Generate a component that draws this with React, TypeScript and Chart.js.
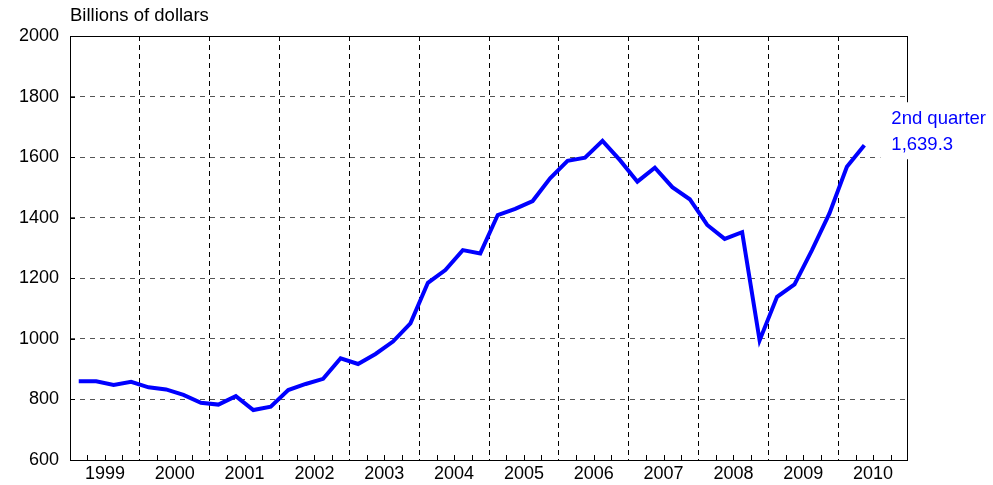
import { useEffect, useRef } from 'react';
import { Chart, registerables } from 'chart.js';

Chart.register(...registerables);

const years = ['1999', '2000', '2001', '2002', '2003', '2004', '2005', '2006', '2007', '2008', '2009', '2010'];
// Quarterly values, 1999 Q1 .. 2010 Q2 (billions of dollars)
const values = [
  860, 860, 848, 858,
  840, 833, 815, 789,
  783, 811, 765, 776,
  831, 851, 868, 936,
  917, 950, 991, 1051,
  1185, 1227, 1293, 1282,
  1409, 1429, 1455, 1530,
  1588, 1598, 1654, 1590,
  1519, 1565, 1501, 1461,
  1376, 1330, 1352, 995,
  1139, 1180, 1293, 1414,
  1568, 1639.3,
];
const yMin = 600;
const yMax = 2000;
const yStep = 200;
const unitLabel = 'Billions of dollars';
const noteLines = ['2nd quarter', '1,639.3'];

const FONT = '"Liberation Sans", Arial, Helvetica, sans-serif';

const framePlugin = {
  id: 'frameAndNotes',
  beforeDatasetsDraw(chart: any) {
    const { ctx, chartArea, scales } = chart;
    const { left, right, top, bottom } = chartArea;
    const x = scales.x;
    const y = scales.y;
    ctx.save();
    ctx.strokeStyle = '#000';
    ctx.lineWidth = 1;
    ctx.setLineDash([]);
    ctx.beginPath();
    const nq = years.length * 4;
    for (let q = 1; q < nq; q++) {
      if (q % 4 === 0) continue;
      const px = Math.round(x.getPixelForValue(q)) + 0.5;
      ctx.moveTo(px, bottom);
      ctx.lineTo(px, bottom - 5);
    }
    for (let v = yMin; v <= yMax; v += yStep) {
      const py = Math.round(y.getPixelForValue(v)) + 0.5;
      ctx.moveTo(left, py);
      ctx.lineTo(left + 5, py);
    }
    ctx.stroke();
    ctx.strokeRect(Math.round(left) + 0.5, Math.round(top) + 0.5, Math.round(right - left) - 1, Math.round(bottom - top));
    ctx.restore();
  },
  afterDraw(chart: any) {
    const { ctx, chartArea, scales } = chart;
    const x = scales.x;
    const y = scales.y;
    const last = values.length - 1;
    const px = x.getPixelForValue(last + 0.5);
    const py = y.getPixelForValue(values[last]);
    ctx.save();
    ctx.fillStyle = '#fff';
    ctx.fillRect(px + 16, py - 43, 130, 57);
    ctx.font = `18.5px ${FONT}`;
    ctx.fillStyle = '#0000ff';
    ctx.textAlign = 'left';
    ctx.textBaseline = 'alphabetic';
    ctx.fillText(noteLines[0], px + 27, py - 21);
    ctx.fillText(noteLines[1], px + 27, py + 5);
    ctx.fillStyle = '#000';
    ctx.fillText(unitLabel, chartArea.left, chartArea.top - 15);
    ctx.restore();
  },
};

export default function App() {
  const ref = useRef<HTMLCanvasElement | null>(null);
  useEffect(() => {
    document.body.style.margin = '0';
    if (!ref.current) return;
    Chart.defaults.font.family = FONT;
    const data = values.map((v, i) => ({ x: i + 0.5, y: v }));
    const chart = new Chart(ref.current, {
      type: 'line',
      data: {
        datasets: [
          {
            data,
            borderColor: '#0000ff',
            borderWidth: 4,
            pointRadius: 0,
            tension: 0,
            fill: false,
            borderJoinStyle: 'miter',
            borderCapStyle: 'butt',
          },
        ],
      },
      options: {
        animation: false,
        responsive: false,
        maintainAspectRatio: false,
        layout: { padding: { left: 0, top: 36, right: 85, bottom: 0 } },
        plugins: { legend: { display: false }, tooltip: { enabled: false } },
        scales: {
          x: {
            type: 'linear',
            min: 0,
            max: years.length * 4,
            afterFit: (s: any) => { s.height = 25; },
            afterBuildTicks: (s: any) => {
              const t = [];
              for (let q = 0; q <= years.length * 4; q++) t.push({ value: q });
              s.ticks = t;
            },
            ticks: {
              autoSkip: false,
              maxRotation: 0,
              minRotation: 0,
              padding: 3,
              color: '#000',
              font: { size: 18 },
              callback: (v: any) => {
                const n = Number(v);
                return n % 4 === 2 ? years[(n - 2) / 4] : '';
              },
            },
            grid: {
              drawTicks: false,
              lineWidth: 1,
              color: (c: any) => {
                const v = c.tick ? c.tick.value : -1;
                return v % 4 === 0 && v > 0 && v < years.length * 4 ? '#000' : 'rgba(0,0,0,0)';
              },
            },
            border: { display: false, dash: [5, 4] },
          },
          y: {
            min: yMin,
            max: yMax,
            afterFit: (s: any) => { s.width = 70; },
            ticks: {
              stepSize: yStep,
              padding: 11,
              color: '#000',
              font: { size: 18 },
              callback: (v: any) => String(v),
            },
            grid: {
              drawTicks: false,
              lineWidth: 1,
              color: '#555',
            },
            border: { display: false, dash: [5, 5] },
          },
        },
      },
      plugins: [framePlugin],
    } as any);
    return () => chart.destroy();
  }, []);
  return (
    <div style={{ width: 993, height: 485 }}>
      <canvas ref={ref} width={993} height={485} style={{ display: 'block' }} />
    </div>
  );
}
